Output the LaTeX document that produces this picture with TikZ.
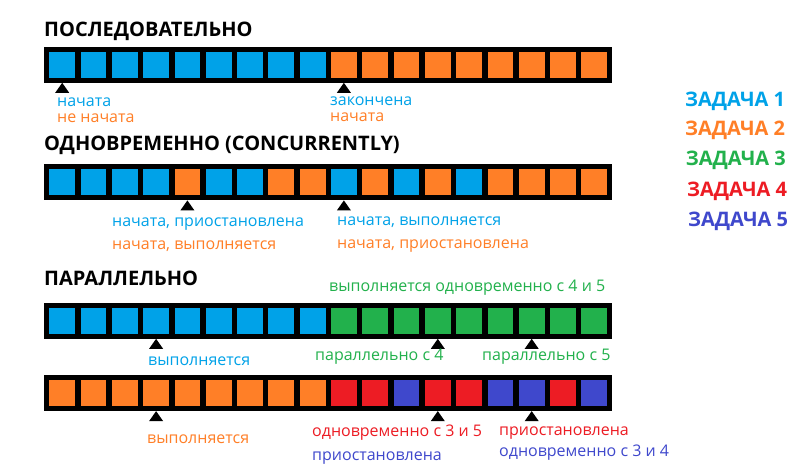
\documentclass[tikz,border=0pt]{standalone}
\usepackage{fontspec}
\setmainfont{Open Sans}
\usetikzlibrary{positioning,calc}

\definecolor{taskA}{HTML}{00A2E8}
\definecolor{taskB}{HTML}{FF7F27}
\definecolor{taskC}{HTML}{22B14C}
\definecolor{taskD}{HTML}{ED1C24}
\definecolor{taskE}{HTML}{3F48CC}

\begin{document}
\begin{tikzpicture}[x=1pt,y=-1pt,
    heading/.style={anchor=base west,inner sep=0pt,font=\bfseries\fontsize{20}{20}\selectfont},
    lbl/.style={anchor=base west,inner sep=0pt,font=\fontsize{16}{16}\selectfont},
    cell/.style={minimum size=25.8pt,inner sep=0pt}]
\useasboundingbox[fill=white] (0,0) rectangle (795,474);

% titles
\node[heading] (seqtitle) at (44,36.7) {ПОСЛЕДОВАТЕЛЬНО};
\node[heading] (conctitle) at (44,150.5) {ОДНОВРЕМЕННО (CONCURRENTLY)};
\node[heading] (partitle) at (44,285) {ПАРАЛЛЕЛЬНО};

% bar 1
\fill (44.3,46.7) rectangle (611.7,82.7);
\foreach \c [count=\i from 0] in {taskA,taskA,taskA,taskA,taskA,taskA,taskA,taskA,taskA,
                                  taskB,taskB,taskB,taskB,taskB,taskB,taskB,taskB,taskB}
  \node[cell,fill=\c] (seq-\i) at (62.2+31.3*\i,64.7) {};

% bar 2
\fill (44.3,164.3) rectangle (611.7,200.3);
\foreach \c [count=\i from 0] in {taskA,taskA,taskA,taskA,taskB,taskA,taskA,taskB,taskB,
                                  taskA,taskB,taskA,taskB,taskA,taskB,taskB,taskB,taskB}
  \node[cell,fill=\c] (conc-\i) at (62.2+31.3*\i,182.3) {};

% bar 3
\fill (44.3,302.7) rectangle (611.7,338.7);
\foreach \c [count=\i from 0] in {taskA,taskA,taskA,taskA,taskA,taskA,taskA,taskA,taskA,
                                  taskC,taskC,taskC,taskC,taskC,taskC,taskC,taskC,taskC}
  \node[cell,fill=\c] (parA-\i) at (62.2+31.3*\i,320.7) {};

% bar 4
\fill (44.3,375) rectangle (611.7,411);
\foreach \c [count=\i from 0] in {taskB,taskB,taskB,taskB,taskB,taskB,taskB,taskB,taskB,
                                  taskD,taskD,taskE,taskD,taskD,taskE,taskE,taskD,taskE}
  \node[cell,fill=\c] (parB-\i) at (62.2+31.3*\i,393) {};

% pointers
\foreach \n in {seq-0,seq-9,conc-4,conc-9,parA-3,parA-12,parA-15,parB-3,parB-12,parB-15}
  \fill ($(\n.south)+(0,5)$) -- ++(-7,10) -- ++(14,0) -- cycle;

% state labels
\node[lbl,text=taskA] (seqA) at (57,106) {начата};
\node[lbl,text=taskB] (seqB) at (57,122.5) {не начата};
\node[lbl,text=taskA] (seqC) at (330,105.5) {закончена};
\node[lbl,text=taskB] (seqD) at (330,121.7) {начата};

\node[lbl,text=taskA] (concA) at (112,226.5) {начата, приостановлена};
\node[lbl,text=taskB] (concB) at (112,249) {начата, выполняется};
\node[lbl,text=taskA] (concC) at (337,225) {начата, выполняется};
\node[lbl,text=taskB] (concD) at (337,248) {начата, приостановлена};

\node[lbl,text=taskC] (parA) at (329,291.7) {выполняется одновременно с 4 и 5};
\node[lbl,text=taskA] (parB) at (148,365) {выполняется};
\node[lbl,text=taskC] (parC) at (315,360) {параллельно с 4};
\node[lbl,text=taskC] (parD) at (482,360) {параллельно с 5};

\node[lbl,text=taskB] (parE) at (147,443) {выполняется};
\node[lbl,text=taskD] (parF) at (312,436.7) {одновременно с 3 и 5};
\node[lbl,text=taskE] (parG) at (312,460) {приостановлена};
\node[lbl,text=taskD] (parH) at (499,435) {приостановлена};
\node[lbl,text=taskE] (parI) at (499,456.7) {одновременно с 3 и 4};

% legend
\node[heading,text=taskA] (leg1) at (685,106) {ЗАДАЧА 1};
\node[heading,text=taskB] (leg2) at (685,135) {ЗАДАЧА 2};
\node[heading,text=taskC] (leg3) at (685.7,165) {ЗАДАЧА 3};
\node[heading,text=taskD] (leg4) at (687,196) {ЗАДАЧА 4};
\node[heading,text=taskE] (leg5) at (688,226.7) {ЗАДАЧА 5};
\end{tikzpicture}
\end{document}
